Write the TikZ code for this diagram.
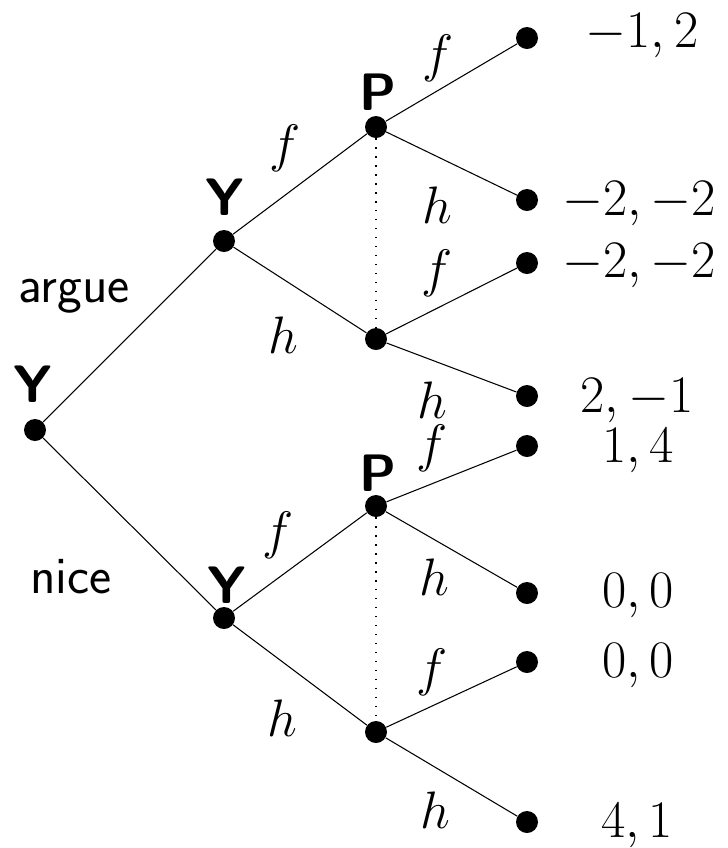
\RequirePackage{fix-cm}
\documentclass[tikz,border=0pt]{standalone}
\begin{document}
\begin{tikzpicture}[font=\fontsize{30}{36}\selectfont,dot/.style={circle,fill=black,inner sep=0pt,minimum size=4.4mm},edge/.style={line width=0.6pt},info/.style={line width=0.8pt,dash pattern=on 0.8pt off 4.3pt},player/.style={font=\fontsize{30}{36}\selectfont\sffamily\bfseries},move/.style={font=\fontsize{30}{36}\selectfont\sffamily,anchor=base},pay/.style={anchor=base}]
\useasboundingbox (0,0) rectangle (14.56,-16.96);
% decision nodes
\node[dot] (root) at (0.70,-8.60) {};
\node[dot] (ya) at (4.48,-4.82) {};
\node[dot] (yn) at (4.48,-12.36) {};
\node[dot] (pa) at (7.52,-2.54) {};
\node[dot] (pb) at (7.52,-6.78) {};
\node[dot] (pc) at (7.52,-10.12) {};
\node[dot] (pd) at (7.52,-14.64) {};
% terminal nodes
\node[dot] (t1) at (10.54,-0.76) {};
\node[dot] (t2) at (10.54,-4.00) {};
\node[dot] (t3) at (10.54,-5.26) {};
\node[dot] (t4) at (10.54,-7.92) {};
\node[dot] (t5) at (10.54,-8.92) {};
\node[dot] (t6) at (10.54,-11.86) {};
\node[dot] (t7) at (10.54,-13.24) {};
\node[dot] (t8) at (10.54,-16.44) {};
% players
\node[player] (lroot) at (0.66,-7.68) {Y};
\node[player] (lya) at (4.50,-3.94) {Y};
\node[player] (lyn) at (4.54,-11.70) {Y};
\node[player] (lpa) at (7.56,-1.84) {P};
\node[player] (lpc) at (7.56,-9.46) {P};
% branches
\draw[edge] (root) -- (ya);
\draw[edge] (root) -- (yn);
\draw[edge] (ya) -- (pa);
\draw[edge] (ya) -- (pb);
\draw[edge] (yn) -- (pc);
\draw[edge] (yn) -- (pd);
\draw[edge] (pa) -- (t1);
\draw[edge] (pa) -- (t2);
\draw[edge] (pb) -- (t3);
\draw[edge] (pb) -- (t4);
\draw[edge] (pc) -- (t5);
\draw[edge] (pc) -- (t6);
\draw[edge] (pd) -- (t7);
\draw[edge] (pd) -- (t8);
% information sets
\draw[info] (pa) -- (pb);
\draw[info] (pc) -- (pd);
% actions
\node[move] (argue) at (1.48,-6.04) {argue};
\node[move] (nice) at (1.42,-11.86) {nice};
\node (fa) at (5.70,-2.96) {$f$};
\node (ha) at (5.66,-6.70) {$h$};
\node (fn) at (5.56,-10.70) {$f$};
\node (hn) at (5.64,-14.36) {$h$};
\node (f1) at (8.76,-1.16) {$f$};
\node (h1) at (8.74,-4.10) {$h$};
\node (f2) at (8.74,-5.46) {$f$};
\node (h2) at (8.64,-8.00) {$h$};
\node (f3) at (8.64,-8.96) {$f$};
\node (h3) at (8.68,-11.54) {$h$};
\node (f4) at (8.64,-13.44) {$f$};
\node (h4) at (8.70,-16.20) {$h$};
% payoffs
\node[pay] (p1) at (12.84,-0.94) {$-1,2$};
\node[pay] (p2) at (12.78,-4.30) {$-2,-2$};
\node[pay] (p3) at (12.78,-5.54) {$-2,-2$};
\node[pay] (p4) at (12.74,-8.24) {$2,-1$};
\node[pay] (p5) at (12.76,-9.24) {$1,4$};
\node[pay] (p6) at (12.76,-12.14) {$0,0$};
\node[pay] (p7) at (12.76,-13.54) {$0,0$};
\node[pay] (p8) at (12.74,-16.74) {$4,1$};
\end{tikzpicture}
\end{document}
